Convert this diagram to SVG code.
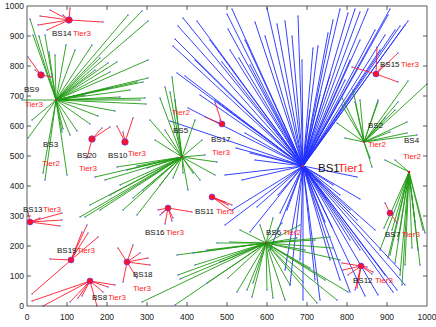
<svg xmlns="http://www.w3.org/2000/svg" width="436" height="327" viewBox="0 0 436 327">
<style>
.ax{font-family:"Liberation Sans",Arial,sans-serif;font-size:8.5px;fill:#222}
.lb{font-family:"Liberation Sans",Arial,sans-serif;font-size:8px;fill:#111}
.tr{font-family:"Liberation Sans",Arial,sans-serif;font-size:8px;fill:#ff1a1a}
.big{font-size:11.5px}
.bl{fill:none;stroke:#1f2eff;stroke-width:0.9;marker-start:url(#u);marker-mid:url(#u);marker-end:url(#u)}
.gr{fill:none;stroke:#1f9a12;stroke-width:0.9;marker-start:url(#u);marker-mid:url(#u);marker-end:url(#u)}
.rd{fill:none;stroke:#ff1a2a;stroke-width:0.9;marker-start:url(#u);marker-mid:url(#u);marker-end:url(#u)}
.bs{fill:#ff1028;stroke:#4a3cff;stroke-width:0.6}
.ctr{fill:#e01020}
</style>
<defs>
<marker id="u" viewBox="-1 -1 2 2" markerWidth="2" markerHeight="2" markerUnits="userSpaceOnUse" overflow="visible"><circle r="0.8" fill="#5a6cff"/></marker>
</defs>
<rect width="436" height="327" fill="#fff"/>
<g id="connectors">
<path class="bl" d="M303 166L183 18M303 166L197 21M303 166L178 26M303 166L175 39M303 166L173 46M303 166L177 73M303 166L185 76M303 166L227 14M303 166L232 9M303 166L230 50M303 166L228 29M303 166L265 36M303 166L267 8M303 166L277 24M303 166L285 21M303 166L298 16M303 166L292 36M303 166L302 60M303 166L313 48M303 166L318 46M303 166L328 33M303 166L333 20M303 166L340 9M303 166L348 13M303 166L355 9M303 166L360 12M303 166L368 9M303 166L390 9M303 166L388 15M303 166L400 26M303 166L408 21M303 166L405 25M303 166L239 58M303 166L250 65M303 166L222 62M303 166L245 40M303 166L255 22M303 166L210 40M303 166L195 60M303 166L170 121M303 166L188 108M303 166L200 95M303 166L215 100M303 166L245 133M303 166L250 153M303 166L225 175M303 166L242 180M303 166L232 210M303 166L278 195M303 166L236 148M303 166L255 160M303 166L257 207M303 166L280 213M303 166L287 210M303 166L250 232M303 166L225 225M303 166L270 250M303 166L290 285M303 166L303 300M303 166L285 270M303 166L300 260M303 166L325 222M303 166L332 227M303 166L350 240M303 166L365 296M303 166L378 295M303 166L393 292M303 166L397 290M303 166L400 270M303 166L405 285M303 166L350 292M303 166L320 300M303 166L315 280M303 166L340 280M303 166L360 250M303 166L330 260M303 166L385 275M303 166L360 199M303 166L357 177M303 166L333 185M303 166L327 200M303 166L357 220M303 166L350 210M303 166L340 195M303 166L375 230M303 166L340 100M303 166L345 80M303 166L350 60M303 166L360 40M303 166L375 30M303 166L380 50M303 166L330 75M303 166L320 95M303 166L310 110M303 166L385 35M303 166L395 30"/>
<path class="gr" d="M56 100L30 19M56 100L33 35M56 100L39 36M56 100L45 35M56 100L49 52M56 100L55 55M56 100L92 45M56 100L128 15M56 100L142 11M56 100L148 21M56 100L100 58M56 100L108 63M56 100L117 62M56 100L110 72M56 100L148 60M56 100L148 78M56 100L137 82M56 100L143 82M56 100L145 98M56 100L140 100M56 100L146 104M56 100L28 138M56 100L32 120M56 100L45 180M56 100L43 173M56 100L67 175M56 100L62 132M56 100L70 135M56 100L77 131M56 100L90 124M56 100L98 116M56 100L115 111M56 100L63 129M56 100L120 97M56 100L85 95M56 100L110 88M56 100L75 50M56 100L66 45M56 100L95 70M56 100L130 90M56 100L22 100"/>
<path class="gr" d="M364 142L342 105M364 142L355 102M364 142L360 100M364 142L378 102M364 142L398 102M364 142L407 122M364 142L390 132M364 142L417 135M364 142L407 133M364 142L372 167M364 142L370 158M364 142L345 138M364 142L337 123M364 142L408 81M364 142L427 84M364 142L378 100M364 142L353 90M364 142L342 98M364 142L395 110M364 142L385 118"/>
<path class="gr" d="M409 172L390 255M409 172L395 263M409 172L400 275M409 172L420 265M409 172L423 230M409 172L415 222M409 172L380 250M409 172L388 258M409 172L405 265M409 172L412 248M409 172L425 233M409 172L385 160M409 172L395 160M409 172L398 240M409 172L402 285M409 172L384 228M409 172L392 230M409 172L418 250"/>
<path class="gr" d="M182 157L160 98M182 157L165 87M182 157L172 77M182 157L170 92M182 157L175 100M182 157L202 140M182 157L217 162M182 157L215 175M182 157L200 180M182 157L193 173M182 157L183 173M182 157L173 178M182 157L95 177M182 157L117 167M182 157L127 170M182 157L137 166M182 157L147 168M182 157L80 217M182 157L90 205M182 157L100 210M182 157L123 210M182 157L133 198M182 157L143 190M182 157L137 215M182 157L85 217M182 157L110 195M182 157L155 140M182 157L150 120M182 157L165 130M182 157L195 120M182 157L205 155M182 157L188 190M182 157L160 185M182 157L120 185M182 157L105 180"/>
<path class="gr" d="M266 243L260 225M266 243L273 218M266 243L282 223M266 243L177 255M266 243L193 253M266 243L207 250M266 243L217 243M266 243L230 242M266 243L178 275M266 243L180 279M266 243L207 283M266 243L228 278M266 243L142 302M266 243L175 305M266 243L237 292M266 243L247 290M266 243L252 297M266 243L267 290M266 243L273 298M266 243L253 283M266 243L333 248M266 243L297 238M266 243L305 250M266 243L303 282M266 243L348 292M266 243L337 300M266 243L317 303M266 243L315 240M266 243L330 237M266 243L340 260M266 243L325 280M266 243L290 285M266 243L285 300M266 243L220 262M266 243L195 265M266 243L240 230M266 243L300 225M266 243L310 268"/>
<path class="rd" d="M69 20L40 16M69 20L38 25M69 20L47 30M69 20L63 15M69 20L103 22M69 20L70 8M69 20L50 10"/>
<path class="rd" d="M41 75L28 57M41 75L52 77M41 75L35 70"/>
<path class="rd" d="M92 139L102 128M92 139L110 127M92 139L87 158"/>
<path class="rd" d="M125 142L117 126M125 142L133 118M125 142L123 132"/>
<path class="rd" d="M30 222L62 213M30 222L62 220M30 222L60 226M30 222L40 218M30 222L28 212"/>
<path class="rd" d="M71 260L32 294M71 260L50 259M71 260L87 225M71 260L98 237M71 260L82 232M71 260L88 233M71 260L75 253"/>
<path class="rd" d="M90 281L32 301M90 281L43 306M90 281L70 302M90 281L78 298M90 281L82 296M90 281L97 306M90 281L115 285M90 281L108 287M90 281L103 292"/>
<path class="rd" d="M127 262L118 248M127 262L133 245M127 262L140 253M127 262L150 265M127 262L123 282M127 262L137 278M127 262L148 258"/>
<path class="rd" d="M168 208L192 212M168 208L165 224M168 208L160 215M168 208L172 221M168 208L162 213M168 208L173 218M168 208L158 210"/>
<path class="rd" d="M212 197L230 210M212 197L228 205M212 197L225 202M212 197L232 205"/>
<path class="rd" d="M222 124L205 117M222 124L215 102M222 124L220 120"/>
<path class="rd" d="M376 74L352 67M376 74L377 47M376 74L398 53M376 74L398 82M376 74L383 65"/>
<path class="rd" d="M390 213L385 203M390 213L397 223"/>
<path class="rd" d="M361 266L342 263M361 266L343 270M361 266L348 275M361 266L357 288M361 266L358 282M361 266L373 272M361 266L367 267M361 266L372 274M361 266L355 290"/>
</g>
<g id="axes" fill="none" stroke="#333" stroke-width="0.8">
<rect x="27" y="6" width="400" height="300"/>
<path d="M27 276h4M27 246h4M27 216h4M27 186h4M27 156h4M27 126h4M27 96h4M27 66h4M27 36h4M427 276h-4M427 246h-4M427 216h-4M427 186h-4M427 156h-4M427 126h-4M427 96h-4M427 66h-4M427 36h-4M67 306v-4M107 306v-4M147 306v-4M187 306v-4M227 306v-4M267 306v-4M307 306v-4M347 306v-4M387 306v-4M67 6v4M107 6v4M147 6v4M187 6v4M227 6v4M267 6v4M307 6v4M347 6v4M387 6v4"/>
</g>
<g id="ticklabels" class="ax" text-anchor="end">
<text x="24" y="309">0</text><text x="24" y="279">100</text><text x="24" y="249">200</text><text x="24" y="219">300</text><text x="24" y="189">400</text><text x="24" y="159">500</text><text x="24" y="129">600</text><text x="24" y="99">700</text><text x="24" y="69">800</text><text x="24" y="39">900</text><text x="24" y="9">1000</text>
</g>
<g class="ax" text-anchor="middle">
<text x="27" y="320">0</text><text x="67" y="320">100</text><text x="107" y="320">200</text><text x="147" y="320">300</text><text x="187" y="320">400</text><text x="227" y="320">500</text><text x="267" y="320">600</text><text x="307" y="320">700</text><text x="347" y="320">800</text><text x="387" y="320">900</text><text x="427" y="320">1000</text>
</g>
<g id="BS1"><circle class="ctr" cx="303" cy="166" r="1"/><text class="lb big" x="318" y="172">BS1</text><text class="tr big" x="338" y="172">Tier1</text></g>
<g id="BS2"><circle class="ctr" cx="364" cy="142" r="1"/><text class="lb" x="368" y="128">BS2</text><text class="tr" x="368" y="147">Tier2</text></g>
<g id="BS3"><circle class="ctr" cx="56" cy="100" r="1"/><text class="lb" x="43" y="147">BS3</text><text class="tr" x="42" y="166">Tier2</text></g>
<g id="BS4"><circle class="ctr" cx="409" cy="172" r="1.3"/><text class="lb" x="404" y="143">BS4</text><text class="tr" x="403" y="159">Tier2</text></g>
<g id="BS5"><circle class="ctr" cx="182" cy="157" r="1"/><text class="lb" x="173" y="133">BS5</text><text class="tr" x="172" y="115">Tier2</text></g>
<g id="BS6"><circle class="ctr" cx="266" cy="243" r="1"/><text class="lb" x="266" y="235">BS6</text><text class="tr" x="283" y="235">Tier2</text></g>
<g id="BS7"><circle class="bs" cx="390" cy="213" r="3"/><text class="lb" x="385" y="237">BS7</text><text class="tr" x="402" y="237">Tier3</text></g>
<g id="BS8"><circle class="bs" cx="90" cy="281" r="3"/><text class="lb" x="92" y="300">BS8</text><text class="tr" x="108" y="300">Tier3</text></g>
<g id="BS9"><circle class="bs" cx="41" cy="75" r="3.3"/><text class="lb" x="24" y="92">BS9</text><text class="tr" x="25" y="107">Tier3</text></g>
<g id="BS10"><circle class="bs" cx="125" cy="142" r="3.3"/><text class="lb" x="108" y="158">BS10</text><text class="tr" x="128" y="156">Tier3</text></g>
<g id="BS11"><circle class="bs" cx="212" cy="197" r="3"/><text class="lb" x="195" y="214">BS11</text><text class="tr" x="216" y="214">Tier3</text></g>
<g id="BS12"><circle class="bs" cx="361" cy="266" r="3"/><text class="lb" x="353" y="283">BS12</text><text class="tr" x="375" y="283">Tier3</text></g>
<g id="BS13"><circle class="bs" cx="30" cy="222" r="3"/><text class="lb" x="23" y="212">BS13</text><text class="tr" x="43" y="212">Tier3</text></g>
<g id="BS14"><circle class="bs" cx="69" cy="20" r="3.3"/><text class="lb" x="52" y="36">BS14</text><text class="tr" x="73" y="36">Tier3</text></g>
<g id="BS15"><circle class="bs" cx="376" cy="74" r="3"/><text class="lb" x="380" y="67">BS15</text><text class="tr" x="401" y="67">Tier3</text></g>
<g id="BS16"><circle class="bs" cx="168" cy="208" r="3"/><text class="lb" x="145" y="235">BS16</text><text class="tr" x="166" y="235">Tier3</text></g>
<g id="BS17"><circle class="bs" cx="222" cy="124" r="3"/><text class="lb" x="211" y="142">BS17</text><text class="tr" x="212" y="155">Tier3</text></g>
<g id="BS18"><circle class="bs" cx="127" cy="262" r="3"/><text class="lb" x="133" y="277">BS18</text><text class="tr" x="133" y="291">Tier3</text></g>
<g id="BS19"><circle class="bs" cx="71" cy="260" r="3"/><text class="lb" x="57" y="253">BS19</text><text class="tr" x="77" y="253">Tier3</text></g>
<g id="BS20"><circle class="bs" cx="92" cy="139" r="3.3"/><text class="lb" x="77" y="158">BS20</text><text class="tr" x="79" y="171">Tier3</text></g>
</svg>
